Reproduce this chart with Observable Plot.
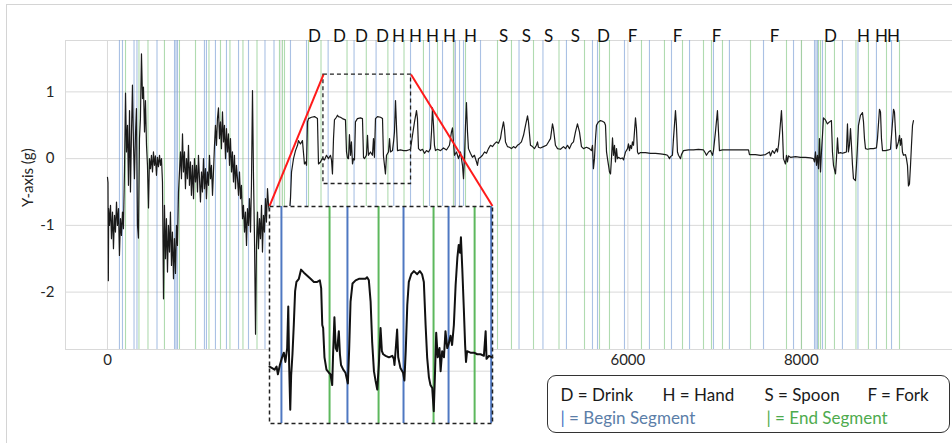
<!DOCTYPE html>
<html><head><meta charset="utf-8">
<script src="https://cdn.jsdelivr.net/npm/d3@7"></script>
<script src="https://cdn.jsdelivr.net/npm/@observablehq/plot@0.6"></script>
<style>
body{margin:0;background:#fff;}
#wrap{position:relative;width:952px;height:443px;overflow:hidden;background:#fff;font-family:Lato,"Noto Sans",sans-serif;}
#border{position:absolute;left:6px;top:4px;width:960px;height:460px;border:1.5px solid #d4d4d4;pointer-events:none;}
#inset{position:absolute;background:#fff;line-height:0;}
#legend{position:absolute;left:547px;top:375px;width:403px;height:58px;border:1.5px solid #333;border-radius:9px;background:#fff;box-sizing:border-box;}
.lg{position:absolute;font-size:17px;white-space:nowrap;line-height:17px;color:#1a1a1a;}
.bl{color:#5b7ea8;} .bl b{color:#4472c4;font-weight:normal;}
.gr{color:#4eab4e;}
</style></head>
<body>
<div id="wrap"><div id="border"></div></div>
<script>
// ---------- data ----------
const xGrid = [0, 2000, 4000, 6000, 8000];
const xTickLabels = [0, 6000, 8000]; // 2000 and 4000 sit behind the inset
const yTicks = [-2, -1, 0, 1];
const activityLabels = ["D","D","D","D","H","H","H","H","H","S","S","S","S","D","F","F","F","F","D","H","H","H"];
const activityX = [2387,2675,2929,3171,3355,3551,3747,3943,4185,4566,4831,5085,5396,5719,6053,6572,7022,7691,8336,8717,8924,9063];
const beginSegments = [138,173,306,340,571,773,790,807,1118,1141,1245,1372,1511,1626,1816,1920,2110,2295,2544,2843,3097,3301,3494,3713,3863,4012,4059,4105,4301,4745,5021,5292,5592,5650,5961,6249,6503,6711,6987,7171,7564,7910,8152,8169,8186,8244,8474,8653,8866,9040];
const endSegments = [208,363,467,657,830,1015,1170,1303,1412,1562,1724,1983,2018,2041,2318,2462,2762,2984,3233,3419,3643,3805,3989,4128,4497,4658,4912,5206,5500,5673,5788,6157,6422,6630,6872,6964,7091,7414,7829,8002,8198,8221,8278,8382,8630,8774,8982,9132];
const signal = [
[0,-0.28],[6,-0.36],[10,-1.83],[14,-0.75],[23,-1.0],[35,-0.7],[46,-1.2],[58,-0.8],[69,-1.35],[81,-0.85],[92,-1.1],[104,-0.65],[115,-1.0],[127,-0.75],[138,-1.45],[150,-0.9],[161,-1.15],[173,-0.8],[184,-1.05],[196,-0.2],[208,0.98],[219,0.1],[231,0.5],[242,-0.4],[254,0.72],[265,-0.5],[277,0.4],[288,1.1],[300,0.2],[311,-0.3],[323,0.37],[334,0.75],[346,-1.0],[357,-1.19],[369,0.3],[380,0.6],[392,1.57],[404,0.9],[415,1.07],[427,0.4],[438,0.87],[450,0.2],[461,-0.1],[473,-0.74],[484,0.0],[496,-0.15],[507,0.05],[519,-0.2],[530,0.1],[542,-0.1],[553,0.04],[565,-0.25],[576,0.02],[588,-0.12],[600,0.05],[611,-0.1],[623,0.0],[634,-0.35],[646,-2.1],[657,-0.7],[669,-1.5],[680,-0.9],[692,-1.7],[703,-1.0],[715,-1.4],[726,-0.8],[738,-1.6],[749,-1.1],[761,-1.8],[772,-1.2],[784,-1.72],[796,-1.0],[807,-1.3],[819,-0.5],[830,-0.2],[842,0.1],[853,-0.3],[865,0.37],[876,-0.2],[888,0.1],[899,-0.45],[911,0.0],[922,-0.3],[934,0.2],[945,-0.4],[957,-0.05],[968,-0.55],[980,-0.1],[992,-0.6],[1003,0.0],[1015,-0.35],[1026,-0.1],[1038,-0.5],[1049,0.05],[1061,-0.3],[1072,-0.65],[1084,-0.2],[1095,-0.5],[1107,0.0],[1118,-0.45],[1130,-0.15],[1141,-0.6],[1153,-0.2],[1165,-0.4],[1176,0.05],[1188,-0.3],[1199,-0.1],[1211,-0.55],[1222,-0.2],[1234,0.2],[1245,0.5],[1257,0.2],[1268,0.6],[1280,0.76],[1291,0.3],[1303,0.55],[1314,0.15],[1326,0.7],[1338,0.25],[1349,0.5],[1361,0.0],[1372,0.45],[1384,0.1],[1395,0.37],[1407,-0.1],[1418,0.3],[1430,-0.2],[1441,0.1],[1453,-0.35],[1464,0.05],[1476,-0.45],[1487,-0.1],[1499,-0.3],[1511,-0.55],[1522,-0.2],[1534,-0.6],[1545,-0.4],[1557,-0.9],[1568,-0.7],[1580,-1.1],[1591,-0.8],[1603,-1.3],[1614,-0.75],[1626,-1.0],[1637,-0.6],[1649,-1.1],[1660,-0.4],[1672,1.02],[1684,-0.3],[1695,-1.2],[1707,-2.63],[1718,-1.3],[1730,-0.8],[1741,-1.35],[1753,-0.9],[1764,-1.2],[1776,-0.7],[1787,-1.4],[1799,-0.85],[1810,-1.1],[1822,-0.6],[1833,-0.95],[1845,-0.45],[1857,-0.7],[1879,-0.9],[1937,-1.0],[1995,-0.9],[2052,-1.1],[2098,-0.8],[2110,-0.6],[2122,-0.2],[2145,0.0],[2168,0.12],[2191,0.2],[2202,0.27],[2225,0.22],[2248,0.27],[2271,-0.08],[2283,-0.05],[2295,-0.1],[2306,0.55],[2318,0.6],[2352,0.62],[2387,0.63],[2421,0.6],[2433,-0.08],
[2456,-0.05],[2479,0.01],[2502,-0.02],[2525,0.05],[2548,0.0],[2571,0.05],[2583,-0.02],[2594,-0.23],[2606,0.3],[2617,0.58],[2640,0.62],[2652,0.65],[2663,0.63],[2686,0.62],[2709,0.6],[2744,0.58],[2756,0.1],[2767,0.01],[2779,0.0],[2790,0.36],[2802,0.05],[2813,0.25],[2825,-0.08],[2836,0.0],[2848,-0.02],[2859,0.55],[2882,0.6],[2917,0.61],[2940,0.6],[2952,0.02],[2963,0.0],[2986,0.05],[2998,0.35],[3009,0.05],[3032,0.1],[3055,0.05],[3067,0.3],[3078,0.02],[3090,0.6],[3113,0.63],[3148,0.62],[3171,0.6],[3182,0.04],[3205,-0.23],[3217,0.05],[3240,0.1],[3252,0.3],[3263,0.1],[3286,0.12],[3298,0.25],[3309,0.4],[3321,0.87],[3332,0.5],[3344,0.12],[3378,0.13],[3413,0.12],[3447,0.12],[3471,0.13],[3494,0.14],[3517,0.35],[3540,0.55],[3563,0.72],[3574,0.6],[3586,0.15],[3609,0.12],[3632,0.14],[3655,0.08],[3678,0.12],[3701,0.1],[3724,0.15],[3736,0.4],[3747,0.76],[3759,0.5],[3770,0.2],[3782,0.12],[3805,0.14],[3840,0.12],[3874,0.16],[3909,0.13],[3943,0.2],[3966,0.4],[3978,0.46],[3989,0.25],[4001,0.05],[4024,0.1],[4047,0.0],[4070,0.1],[4093,-0.1],[4105,-0.3],[4116,0.0],[4128,0.5],[4139,0.84],[4151,0.4],[4162,0.15],[4185,0.08],[4208,0.02],[4231,0.05],[4255,-0.05],[4266,-0.1],[4278,0.0],[4301,0.02],[4324,0.05],[4347,0.1],[4370,0.08],[4393,0.15],[4416,0.2],[4439,0.18],[4462,0.22],[4485,0.25],[4508,0.23],[4531,0.3],[4543,0.4],[4566,0.55],[4577,0.45],[4589,0.25],[4612,0.18],[4635,0.17],[4658,0.15],[4681,0.18],[4704,0.16],[4727,0.2],[4750,0.22],[4773,0.25],[4797,0.35],[4820,0.5],[4843,0.64],[4854,0.55],[4877,0.2],[4900,0.18],[4923,0.15],[4946,0.2],[4958,0.25],[4969,0.17],[4992,0.16],[5027,0.18],[5062,0.2],[5085,0.25],[5108,0.3],[5131,0.52],[5142,0.45],[5165,0.2],[5189,0.15],[5223,0.14],[5258,0.18],[5281,0.15],[5304,0.2],[5327,0.15],[5350,0.22],[5373,0.25],[5396,0.4],[5419,0.52],[5442,0.4],[5465,0.18],[5488,0.15],[5523,0.17],[5557,0.15],[5580,0.12],[5592,0.2],[5603,-0.15],[5615,0.0],[5627,0.3],[5638,0.5],[5661,0.55],[5684,0.57],[5707,0.56],[5730,0.54],[5742,0.5],[5754,0.1],[5765,0.0],[5777,-0.1],[5788,-0.2],[5800,-0.23],[5811,0.0],[5823,0.31],[5834,0.05],[5846,0.2],[5857,-0.05],[5869,0.15],[5880,0.0],[5892,0.02],[5915,0.0],[5938,0.01],[5950,-0.02],[5973,0.1],[5996,0.15],[6007,0.22],[6019,0.12],[6030,0.2],[6042,0.15],[6053,0.25],[6065,0.2],[6076,0.4],[6088,0.61],[6099,0.45],[6111,0.1],[6122,0.07],[6145,0.09],[6203,0.09],[6261,0.08],[6318,0.08],[6376,0.07],[6434,0.06],[6457,0.05],[6480,0.0],[6491,0.03],[6514,0.05],[6526,0.3],[6549,0.72],[6560,0.5],[6572,0.1],[6584,0.05],[6607,0.0],[6618,0.06],[6641,0.12],[6699,0.13],[6757,0.13],[6814,0.14],[6872,0.13],[6895,0.08],[6906,0.05],[6930,0.1],[6953,0.12],[6976,0.05],[6987,0.12],[7010,0.4],[7033,0.72],[7045,0.4],[7056,0.12],[7091,0.13],[7183,0.13],[7298,0.13],[7391,0.13],[7402,0.06],[7471,0.06],[7529,0.05],[7587,0.06],[7610,0.08],[7633,0.1],[7644,0.04],[7667,0.12],[7690,0.08],[7713,0.15],[7725,0.1],[7737,0.2],[7748,0.35],[7771,0.72],[7783,0.4],[7794,0.0],[7817,-0.08],[7829,0.05],[7840,-0.05],[7852,0.04],[7875,0.02],[7933,0.03],[7990,0.02],[8048,0.02],[8106,0.01],[8140,0.0],[8152,-0.05],[8163,0.1],[8175,-0.1],[8186,0.05],[8198,-0.15],[8209,0.3],[8221,-0.2],[8232,0.1],[8244,0.35],[8255,0.61],[8278,0.58],[8301,0.52],[8324,0.55],[8347,0.57],[8359,0.1],[8371,-0.1],[8394,-0.23],[8405,0.0],[8417,0.31],[8428,0.08],[8451,0.09],[8474,0.08],[8497,0.09],[8520,0.1],[8532,0.52],[8543,0.1],[8555,0.2],[8567,0.45],[8578,0.2],[8590,-0.1],[8601,-0.3],[8624,-0.33],[8636,-0.1],[8648,0.2],[8659,0.5],[8682,0.65],[8705,0.69],[8717,0.55],[8728,0.3],[8740,0.15],[8763,0.14],[8797,0.15],[8832,0.15],[8866,0.16],[8878,0.3],[8901,0.74],[8913,0.7],[8924,0.3],[8936,0.12],[8970,0.12],[9005,0.13],[9028,0.14],[9040,0.35],[9063,0.74],[9074,0.7],[9086,0.4],[9097,0.15],[9120,0.25],[9132,0.35],[9143,0.2],[9155,0.3],[9166,0.1],[9178,0.05],[9201,0.06],[9212,0.0],[9224,-0.1],[9235,-0.41],[9247,-0.38],[9259,-0.1],[9270,0.2],[9282,0.5],[9293,0.57]
];
const insetSignal = [
[2490,0.03],[2502,0.02],[2513,0.01],[2522,0.03],[2528,-0.02],[2537,0.04],[2547,0.09],[2555,0.12],[2562,0.06],[2570,0.15],[2575,0.42],[2579,0.04],[2584,-0.25],[2588,-0.03],[2594,0.11],[2600,0.30],[2606,0.52],[2612,0.58],[2623,0.60],[2633,0.66],[2646,0.64],[2661,0.62],[2676,0.60],[2691,0.58],[2706,0.58],[2718,0.59],[2724,0.54],[2729,0.30],[2733,0.28],[2739,0.09],[2748,0.01],[2759,-0.01],[2766,-0.02],[2774,-0.09],[2778,0.11],[2784,0.35],[2790,0.15],[2796,0.13],[2804,0.26],[2809,0.11],[2814,0.04],[2824,0.01],[2834,-0.01],[2845,-0.08],[2851,0.15],[2857,0.45],[2866,0.57],[2880,0.59],[2895,0.60],[2910,0.60],[2925,0.60],[2932,0.61],[2940,0.59],[2948,0.45],[2955,0.19],[2963,0.00],[2970,-0.06],[2978,-0.12],[2985,0.04],[2993,0.28],[2999,0.13],[3005,0.11],[3016,0.10],[3031,0.09],[3046,0.10],[3053,0.08],[3056,0.04],[3061,0.13],[3068,0.27],[3073,0.09],[3083,0.02],[3095,-0.01],[3101,-0.06],[3107,0.13],[3114,0.43],[3121,0.58],[3132,0.63],[3144,0.65],[3159,0.63],[3171,0.65],[3181,0.63],[3189,0.58],[3197,0.30],[3204,0.09],[3212,-0.04],[3219,-0.09],[3227,-0.11],[3234,-0.26],[3239,-0.04],[3245,0.25],[3252,0.09],[3260,0.15],[3265,0.00],[3272,0.13],[3280,0.09],[3287,0.26],[3295,0.15],[3302,0.18],[3310,0.23],[3317,0.17],[3325,0.30],[3333,0.56],[3341,0.74],[3347,0.82],[3353,0.77],[3357,0.87],[3363,0.67],[3370,0.41],[3376,0.17],[3380,0.06],[3385,0.13],[3400,0.12],[3416,0.12],[3431,0.11],[3446,0.11],[3461,0.10],[3469,0.26],[3473,0.08],[3484,0.10],[3499,0.09]
];
const zoomX = [2490, 3500];      // sample range shown in the inset
const zoomY = [-0.38, 1.26];     // g range of the dashed box in the main chart
const insetSpanX = [1868, 4439]; // main-chart x span covered by the inset panel
const insetSpanY = [-0.71, -3.96]; // main-chart y span (top, bottom) of the inset panel
const insetY = [-0.34, 1.07];
const insetGrid = [0, 1];
const yLabel = "Y-axis (g)";

// ---------- main chart ----------
const font = "Lato, 'Noto Sans', sans-serif";
const main = Plot.plot({
  width: 952, height: 443,
  marginTop: 40, marginBottom: 94, marginLeft: 65, marginRight: 0,
  x: {domain: [-484, 9743]},
  y: {domain: [-2.86, 1.77]},
  style: {fontFamily: font, background: "transparent", overflow: "visible"},
  marks: [
    Plot.gridX(xGrid, {stroke: "#d9d9d9", strokeOpacity: 1}),
    Plot.gridY(yTicks, {stroke: "#d9d9d9", strokeOpacity: 1}),
    Plot.frame({stroke: "#d9d9d9"}),
    Plot.ruleX(beginSegments, {stroke: "#7d9fd6", strokeOpacity: 0.65, strokeWidth: 1.1}),
    Plot.ruleX(endSegments, {stroke: "#7cc37c", strokeOpacity: 0.6, strokeWidth: 1.1}),
    Plot.line(signal, {x: d => d[0], y: d => d[1], stroke: "#1a1a1a", strokeWidth: 1.2}),
    Plot.rect([0], {x1: zoomX[0], x2: zoomX[1], y1: zoomY[0], y2: zoomY[1], fill: "none", stroke: "#222", strokeWidth: 1.3, strokeDasharray: "4,3"}),
    Plot.link([0, 1], {x1: i => zoomX[i], y1: zoomY[1], x2: i => insetSpanX[i], y2: insetSpanY[0], stroke: "#ff1a1a", strokeWidth: 2}),
    Plot.axisX({ticks: xTickLabels, tickSize: 0, tickPadding: 5, fontSize: 15, tickFormat: d => String(d), label: null, color: "#262626"}),
    Plot.axisY({ticks: yTicks, tickSize: 0, tickPadding: 11, fontSize: 15, tickFormat: d => String(d), label: null, color: "#262626"}),
    Plot.text(activityLabels, {x: activityX, text: activityLabels, frameAnchor: "top", dy: -11, fontSize: 17, fill: "#111"}),
    Plot.text([yLabel], {frameAnchor: "left", dx: -37, dy: 12, rotate: -90, fontSize: 15, fill: "#262626"})
  ]
});
const wrap = document.getElementById("wrap");
main.style.position = "absolute"; main.style.left = "0px"; main.style.top = "0px";
wrap.appendChild(main);

// ---------- inset ----------
const sx = main.scale("x"), sy = main.scale("y");
const iLeft = sx.apply(insetSpanX[0]), iRight = sx.apply(insetSpanX[1]);
const iTop = sy.apply(insetSpanY[0]), iBottom = sy.apply(insetSpanY[1]);
const inBox = v => v >= zoomX[0] && v <= zoomX[1];
const inset = Plot.plot({
  width: Math.round(iRight - iLeft), height: Math.round(iBottom - iTop),
  margin: 0,
  x: {domain: zoomX, axis: null},
  y: {domain: insetY, axis: null},
  style: {background: "white", overflow: "visible"},
  marks: [
    Plot.gridY(insetGrid, {stroke: "#d9d9d9", strokeOpacity: 1}),
    Plot.ruleX(beginSegments.filter(inBox), {stroke: "#4f78c2", strokeWidth: 2}),
    Plot.ruleX(endSegments.filter(inBox), {stroke: "#5db85d", strokeWidth: 2}),
    Plot.line(insetSignal, {x: d => d[0], y: d => d[1], stroke: "#111", strokeWidth: 2}),
    Plot.frame({stroke: "#222", strokeWidth: 1.5, strokeDasharray: "4,3"})
  ]
});
const idiv = document.createElement("div");
idiv.id = "inset";
idiv.style.left = iLeft + "px"; idiv.style.top = iTop + "px";
idiv.appendChild(inset);
wrap.appendChild(idiv);

// ---------- legend ----------
const legendRow1 = [["D = Drink", 12.5], ["H = Hand", 114.5], ["S = Spoon", 216.5], ["F = Fork", 319.5]];
const leg = document.createElement("div");
leg.id = "legend";
for (const [t, l] of legendRow1) {
  const s = document.createElement("div");
  s.className = "lg"; s.style.left = l + "px"; s.style.top = "10px"; s.textContent = t;
  leg.appendChild(s);
}
const b = document.createElement("div");
b.className = "lg bl"; b.style.left = "12.5px"; b.style.top = "33px";
b.innerHTML = "<b>|</b> = Begin Segment";
leg.appendChild(b);
const e = document.createElement("div");
e.className = "lg gr"; e.style.left = "218.5px"; e.style.top = "33px";
e.textContent = "| = End Segment";
leg.appendChild(e);
wrap.appendChild(leg);
wrap.appendChild(document.getElementById("border"));
</script>
</body></html>
